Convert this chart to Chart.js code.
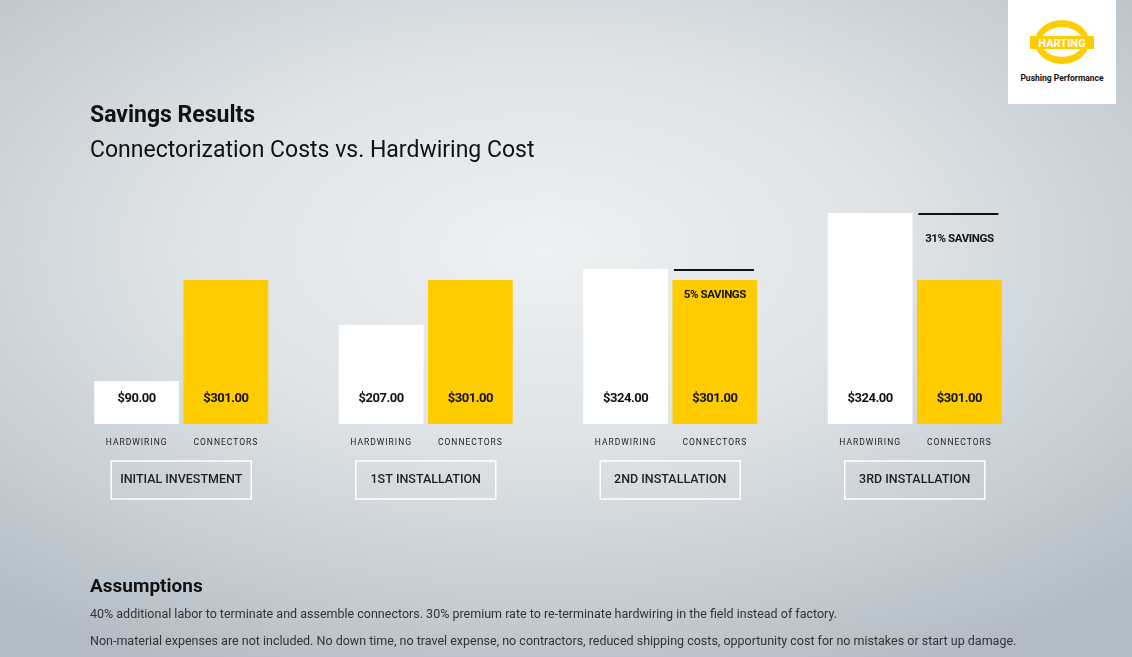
<!DOCTYPE html>
<html><head><meta charset="utf-8">
<script src="https://cdn.jsdelivr.net/npm/chart.js@4"></script>
<style>
html,body{margin:0;padding:0;width:1132px;height:657px;overflow:hidden;font-family:Roboto,"Noto Sans",sans-serif;}
body{background:radial-gradient(ellipse 75% 70% at 48% 38%,#eef0f1 0%,#e0e4e7 40%,#c3cbd1 80%,#b3bcc4 100%);position:relative;}
#c{position:absolute;left:0;top:0;}
.t{position:absolute;color:#111;}
#logo{position:absolute;left:1008px;top:0;width:108px;height:104px;background:#fff;}
</style></head><body>
<canvas id="c" width="1132" height="657"></canvas>
<div class="t" style="left:90px;top:101px;font-size:23px;font-weight:700;">Savings Results</div>
<div class="t" style="left:90px;top:136px;font-size:23px;font-weight:400;">Connectorization Costs vs. Hardwiring Cost</div>
<div class="t" style="left:90px;top:574px;font-size:19px;font-weight:700;">Assumptions</div>
<div class="t" style="left:90px;top:606px;font-size:12.5px;color:#333;">40% additional labor to terminate and assemble connectors. 30% premium rate to re-terminate hardwiring in the field instead of factory.</div>
<div class="t" style="left:90px;top:633px;font-size:12.5px;color:#333;">Non-material expenses are not included. No down time, no travel expense, no contractors, reduced shipping costs, opportunity cost for no mistakes or start up damage.</div>
<div id="logo">
<svg width="108" height="104">
<ellipse cx="54" cy="42" rx="27" ry="22" fill="#ffcc00"/>
<ellipse cx="54" cy="42" rx="21" ry="15" fill="#fff"/>
<rect x="22" y="36" width="64" height="13" fill="#ffcc00"/>
<text x="54" y="47" text-anchor="middle" font-family="Roboto" font-weight="700" font-size="11" fill="#fff">HARTING</text>
<text x="54" y="81" text-anchor="middle" font-family="Roboto" font-weight="700" font-size="8.5" fill="#111">Pushing Performance</text>
</svg></div>
<script>
const groups=["INITIAL INVESTMENT","1ST INSTALLATION","2ND INSTALLATION","3RD INSTALLATION"];
const hardwiring=[90,207,324,441];
const connectors=[301,301,301,301];
const hardwiringLabels=["$90.00","$207.00","$324.00","$324.00"];
const connectorLabels=["$301.00","$301.00","$301.00","$301.00"];
const savings=["","","5% SAVINGS","31% SAVINGS"];
const seriesNames=["HARDWIRING","CONNECTORS"];

const overlay={id:'overlay',afterDatasetsDraw(ch){
 const ctx=ch.ctx;const m0=ch.getDatasetMeta(0),m1=ch.getDatasetMeta(1);const base=ch.scales.y.getPixelForValue(0);
 ctx.save();ctx.textAlign='center';ctx.textBaseline='middle';
 groups.forEach((g,i)=>{
  const a=m0.data[i],b=m1.data[i];
  ctx.fillStyle='#111';ctx.font='bold 13px Roboto';
  if(ctx.letterSpacing!==undefined)ctx.letterSpacing='-0.5px';
  ctx.fillText(hardwiringLabels[i],a.x,base-25);ctx.fillText(connectorLabels[i],b.x,base-25);
  ctx.font='8.5px Roboto';ctx.fillStyle='#222';
  if(ctx.letterSpacing!==undefined)ctx.letterSpacing='1px';
  ctx.fillText(seriesNames[0],a.x,base+19);ctx.fillText(seriesNames[1],b.x,base+19);
  if(ctx.letterSpacing!==undefined)ctx.letterSpacing='0px';
  const cx=(a.x+b.x)/2;
  ctx.strokeStyle='#fff';ctx.lineWidth=1.5;ctx.strokeRect(cx-70,base+37,140,38);
  ctx.fillStyle='#222';ctx.font='500 12.5px Roboto';ctx.fillText(g,cx,base+56);
  if(savings[i]){
   const yl=a.y;ctx.strokeStyle='#111';ctx.lineWidth=2;ctx.beginPath();ctx.moveTo(b.x-41,yl+1);ctx.lineTo(b.x+39,yl+1);ctx.stroke();
   ctx.fillStyle='#111';ctx.font='bold 11.5px Roboto';
   if(ctx.letterSpacing!==undefined)ctx.letterSpacing='-0.4px';
   ctx.fillText(savings[i],b.x,yl+26);
   if(ctx.letterSpacing!==undefined)ctx.letterSpacing='0px';
  }
 });
 ctx.restore();
}};
new Chart(document.getElementById('c'),{type:'bar',
 data:{labels:groups,datasets:[
  {label:seriesNames[0],data:hardwiring,backgroundColor:'#ffffff',categoryPercentage:0.73,barPercentage:0.95},
  {label:seriesNames[1],data:connectors,backgroundColor:'#ffcc00',categoryPercentage:0.73,barPercentage:0.95}]},
 options:{responsive:false,animation:false,events:[],
  layout:{padding:{left:59,right:95,top:199,bottom:233}},
  plugins:{legend:{display:false},tooltip:{enabled:false}},
  scales:{x:{display:false},y:{display:false,min:0,max:470}}},
 plugins:[overlay]});
</script></body></html>
